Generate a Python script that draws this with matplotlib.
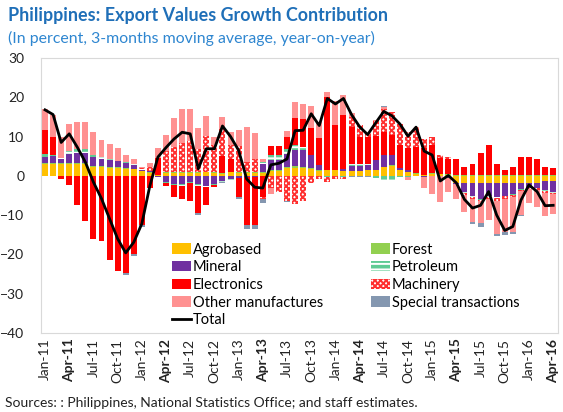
"""Philippines export values growth contribution - stacked bars with total line"""

import numpy as np
import pandas as pd
import matplotlib
matplotlib.use("Agg")
import matplotlib.pyplot as plt
from matplotlib.patches import Patch
from matplotlib.lines import Line2D

plt.rcParams['font.family'] = ['Lato', 'DejaVu Sans']
plt.rcParams['hatch.linewidth'] = 1.4

# months Jan-11 .. Apr-16
months = list(pd.date_range('2011-01-01', periods=64, freq='MS').strftime('%b-%y'))

agro = [3.0, 3.0, 3.0, 3.0, 3.0, 3.0, 2.2, 2.2, 2.0, 2.0, 1.8, 1.7, 1.2, 0.8,
        0.3, 0.8, 0.8, 0.8, 0.8, 0.8, 1.0, 0.8, 0.5, 0.9, 0.8, 0.8, 0.8, 0.8, 1.2, 1.2, 2.0,
        2.1, 2.0, 1.8, 1.3, 1.4, 1.4, 1.2, 1.2, 1.2, 1.4, 1.5, 2.2, 2.6, 1.4, 1.0, 0.5,
        0.1, 0.5, 0.4, 0.3, -1.7, -1.7, -1.7, -1.7, -1.7, -1.7, -1.7, -1.7, -1.7, -1.7, -1.7, -1.2, -1.2]
forest = [0.2, 0.2, 0.2, 0.3, 0.3, 0.3, 0.2, 0.2, 0.2, 0.2, 0.1, 0.1, 0.1, 0.1,
          0.0, 0.1, 0.1, 0.1, 0.1, 0.1, 0.1, 0.1, 0.1, 0.1, 0.1, 0.1, 0.1, 0.2, 0.3, 0.3, 0.3,
          0.3, 0.3, 0.2, 0.2, 0.1, 0.1, 0.1, 0.1, 0.1, 0.1, 0.1, 0.1, 0.1, 0.1, 0.1, 0.1,
          0.1, 0.1, 0.1, 0.1, 0.1, 0.1, 0.1, 0.1, 0.1, 0.1, 0.1, 0.1, 0.1, 0.1, 0.1, 0.1, 0.1]
mineral = [1.7, 1.8, 1.0, 2.3, 2.5, 2.5, 2.3, 2.0, 1.8, 1.5, 1.3, 1.0, 0.3, 0.3,
           -0.3, -1.5, -2.0, -2.2, -1.5, -2.0, -2.5, -2.0, -1.2, -0.8, -0.5, -0.3, -0.3, 2.0, 2.5, 2.5, 3.2,
           4.2, 4.2, 3.4, 1.3, 0.0, 0.0, 0.5, 1.3, 1.3, 1.3, 2.5, 3.0, 2.5, 0.4, 0.4, 0.0,
           -0.2, 0.0, 0.0, -0.6, -0.3, -2.5, -3.4, -4.2, -3.4, -3.8, -3.4, -3.0, -1.7, -1.3, -1.3, -2.5, -3.0]
petroleum = [0.6, 0.4, 0.3, 0.8, 1.0, 1.0, 0.5, 0.3, 0.2, 0.2, 0.2, 0.1, 0.1, 0.1,
             0.0, -0.3, -0.4, -0.5, -0.3, -0.5, -0.4, -0.4, -0.3, -0.4, 0.0, 0.0, 0.0, 0.6, 1.2, 1.3, 1.3,
             1.3, 0.8, 0.0, 0.0, -0.4, 0.0, -0.2, 0.3, 0.3, 0.3, -0.5, -1.2, -1.0, -0.2, -0.3, 0.0,
             0.0, 0.0, 0.0, 0.0, -0.2, -0.2, -0.2, -0.2, -0.2, -0.1, -0.1, -0.1, -0.1, -0.1, -0.1, -0.1, -0.1]
electronics = [6.3, 4.6, -0.8, -2.3, -7.4, -11.4, -16.0, -16.5, -21.5, -24.3, -24.7, -19.8, -12.6, -3.0,
               4.2, -0.7, -3.0, -3.1, -4.5, -7.0, -4.5, -0.5, 4.5, 3.4, -5.0, -12.3, -12.3, -5.5, 2.4, 2.3, 3.0,
               6.8, 7.2, 6.8, 6.8, 18.6, 11.4, 13.6, 9.5, 7.0, 6.8, 6.0, 5.9, 5.1, 5.9, 5.5, 6.8,
               6.8, 7.2, 4.0, 3.8, 4.3, 2.2, 3.0, 5.8, 7.7, 3.0, 1.4, 2.2, 4.7, 4.7, 4.3, 2.2, 1.8]
machinery = [0.0, 0.0, 0.0, 0.0, 0.0, 0.0, 0.0, 0.0, 0.0, 0.0, 0.0, 0.0, 0.3, 1.0,
             0.0, 5.5, 6.5, 7.5, 8.0, 6.0, 9.0, 7.0, 6.8, 3.4, 6.7, 2.5, 3.5, -0.5, -3.0, -4.0, -6.5,
             -7.1, -6.3, -1.7, -0.8, -1.2, -0.8, -0.5, 2.5, 3.0, 1.0, 3.8, 5.9, 5.9, 5.5, 4.2, 5.1,
             2.5, 2.1, 0.8, 0.5, 0.0, -0.5, -0.5, -0.3, -0.5, -0.8, -0.8, -0.6, -0.4, -0.3, -0.4, -0.5, -0.4]
other = [5.1, 5.5, 5.5, 6.8, 7.0, 6.8, 6.0, 4.5, 4.0, 3.3, 1.8, 1.3, 0.2, 1.0,
         2.5, 4.0, 7.4, 8.7, 8.2, 5.2, 5.2, 2.0, 3.0, 3.4, 4.0, 9.1, 6.4, 0.7, -1.5, -0.2, 1.6,
         4.2, 3.8, 5.5, 4.2, 1.3, 6.2, 5.1, 1.0, 0.0, 0.0, 0.2, 0.5, 0.0, 0.0, -0.7, 0.0,
         -2.9, -4.6, -6.7, -3.6, -3.8, -4.2, -6.0, -5.7, -5.5, -8.5, -8.2, -9.0, -6.0, -3.5, -4.5, -6.0, -5.0]
special = [0.0, 0.0, 0.0, 0.0, 0.0, 0.0, 0.0, 0.0, 0.0, 0.0, -0.5, -0.5, -0.3, 0.0,
           0.0, 0.0, 0.0, 0.0, 0.0, -0.5, 0.0, 0.0, -0.3, 0.0, -0.5, -0.9, -0.9, -1.0, 0.0, 0.0, -0.2,
           0.0, 0.0, 0.0, 0.0, 0.0, 0.0, 0.0, -0.3, -0.3, -0.3, 0.0, 0.3, 0.0, 0.0, 0.0, 0.0,
           0.0, 0.0, 0.0, 0.0, 0.0, 0.0, -0.4, -1.0, 0.0, -0.3, -0.8, -0.5, -0.4, 0.0, 0.0, 0.0, 0.0]
total = [16.8, 15.6, 8.5, 10.7, 7.3, 3.5, -1.6, -5.8, -10.9, -16.0, -19.6, -16.9, -12.2, -2.5,
         4.8, 7.2, 9.4, 11.1, 10.7, 1.8, 6.9, 6.9, 12.7, 10.0, 6.5, -0.8, -2.9, -3.1, 2.8, 3.2, 4.3,
         11.5, 11.6, 15.8, 12.8, 19.7, 18.3, 19.7, 15.6, 12.5, 10.5, 13.5, 16.4, 15.3, 13.2, 10.1, 12.4,
         6.3, 5.3, -1.3, 0.1, -1.8, -6.0, -8.2, -7.5, -4.0, -10.0, -13.9, -12.9, -6.2, -2.3, -4.0, -7.6, -7.5]

# (label, values, face, hatch, hatch colour)
series = [
    ("Agrobased", agro, "#FFC000", None, None),
    ("Forest", forest, "#92D050", None, None),
    ("Mineral", mineral, "#7030A0", None, None),
    ("Petroleum", petroleum, "#5FCB94", "---", "white"),
    ("Electronics", electronics, "#FF0000", None, None),
    ("Machinery", machinery, "white", "xxxxxx", "#FF3030"),
    ("Other manufactures", other, "#FF9191", None, None),
    ("Special transactions", special, "#8497B0", None, None),
]

fig = plt.figure(figsize=(5.63, 4.12), dpi=100)
ax = fig.add_axes([41 / 563, 1 - 333 / 412, 517 / 563, 275 / 412])

x = np.arange(len(months))
pos_base = np.zeros(len(months))
neg_base = np.zeros(len(months))
handles = {}
for name, vals, face, hatch, hcol in series:
    v = np.array(vals)
    p = np.where(v > 0, v, 0)
    n = np.where(v < 0, v, 0)
    ec = hcol if hcol else face
    ax.bar(x, p, 0.74, bottom=pos_base, color=face, hatch=hatch, edgecolor=ec, linewidth=0)
    ax.bar(x, n, 0.74, bottom=neg_base, color=face, hatch=hatch, edgecolor=ec, linewidth=0)
    pos_base += p
    neg_base += n
    handles[name] = Patch(facecolor=face, hatch=hatch, edgecolor=ec, linewidth=0)

ax.plot(x, total, color="black", lw=2)
handles["Total"] = Line2D([0], [0], color="black", lw=2)

ax.set_xlim(-0.5, 63.6)
ax.set_ylim(-40, 30)
ax.set_yticks(range(-40, 31, 10))
ax.set_xticks(x[::3])
ax.set_xticklabels(months[::3], rotation=90, fontsize=10)
for lab in ax.get_xticklabels():
    if lab.get_text().startswith("Apr"):
        lab.set_fontweight("bold")
ax.tick_params(length=0, labelsize=10, colors="#222222")
ax.tick_params(axis="y", pad=12)
ax.tick_params(axis="x", pad=4)
for s in ax.spines.values():
    s.set_color("#D9D9D9")

order = ["Agrobased", "Mineral", "Electronics", "Other manufactures", "Total",
         "Forest", "Petroleum", "Machinery", "Special transactions"]
ax.legend([handles[k] for k in order], order, ncol=2, loc="upper left",
          bbox_to_anchor=(0.24, 0.355), frameon=False, fontsize=10.5,
          handlelength=1.3, handleheight=0.7, handletextpad=0.1,
          labelspacing=0.25, columnspacing=3.3, borderpad=0)

fig.text(8 / 563, 1 - 16 / 412, "Philippines: Export Values Growth Contribution",
         fontsize=12.9, fontweight="bold", color="#1F6FB8", va="center")
fig.text(8 / 563, 1 - 38 / 412, "(In percent, 3-months moving average, year-on-year)",
         fontsize=11.4, color="#2E86D0", va="center")
fig.text(5 / 563, 1 - 403 / 412, "Sources: : Philippines, National Statistics Office; and staff estimates.",
         fontsize=10, color="#222222", va="center")

fig.savefig("out.png", dpi=100)
